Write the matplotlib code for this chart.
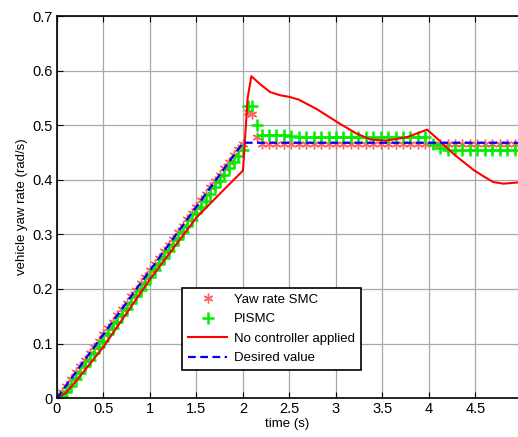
import numpy as np
import matplotlib
matplotlib.use("Agg")
import matplotlib.pyplot as plt

plt.rcParams['font.family'] = ['Liberation Sans', 'DejaVu Sans']

# desired yaw rate
t_des = [0.0, 2.0, 5.0]
y_des = [0.0, 0.468, 0.468]

# yaw rate without controller
t_nc = [0.0, 0.1, 0.2, 0.5, 1.0, 1.5, 1.8, 2.0, 2.02, 2.05, 2.09, 2.18, 2.29, 2.4, 2.5, 2.6,
        2.79, 3.04, 3.22, 3.37, 3.54, 3.76, 3.98, 4.08, 4.26, 4.48, 4.6, 4.69, 4.8, 4.94, 5.0]
y_nc = [0.0, 0.01, 0.03, 0.094, 0.218, 0.331, 0.383, 0.417, 0.47, 0.55, 0.59, 0.576, 0.561, 0.555, 0.552, 0.547,
        0.53, 0.503, 0.485, 0.474, 0.472, 0.478, 0.492, 0.477, 0.448, 0.418, 0.405, 0.396, 0.393, 0.395, 0.396]

# sample times of the controller outputs (denser on the ramp, sparser after)
t_ctl = np.concatenate([np.arange(41) * 0.05, [2.05, 2.10, 2.15], 2.2 + np.arange(35) * 0.08])

y_smc = [0.000, 0.012, 0.023, 0.035, 0.047, 0.058, 0.070, 0.082, 0.094, 0.105,
         0.117, 0.129, 0.140, 0.152, 0.164, 0.175, 0.187, 0.199, 0.211, 0.222,
         0.234, 0.246, 0.257, 0.269, 0.281, 0.292, 0.304, 0.316, 0.328, 0.339,
         0.351, 0.363, 0.374, 0.386, 0.398, 0.409, 0.421, 0.433, 0.445, 0.456,
         0.466,
         0.525, 0.520, 0.478,
         0.466, 0.465, 0.465, 0.465, 0.465, 0.465, 0.465, 0.465, 0.465, 0.465,
         0.465, 0.465, 0.465, 0.465, 0.465, 0.465, 0.465, 0.465, 0.465, 0.465,
         0.465, 0.465, 0.466, 0.466, 0.466, 0.466, 0.466, 0.466, 0.466, 0.466,
         0.466, 0.466, 0.466, 0.466, 0.466]

y_pismc = [0.000, 0.003, 0.012, 0.023, 0.035, 0.046, 0.058, 0.070, 0.082, 0.093,
           0.105, 0.117, 0.128, 0.140, 0.152, 0.163, 0.175, 0.187, 0.199, 0.210,
           0.222, 0.234, 0.245, 0.257, 0.269, 0.280, 0.292, 0.304, 0.316, 0.327,
           0.339, 0.351, 0.362, 0.374, 0.386, 0.397, 0.409, 0.421, 0.433, 0.444,
           0.455,
           0.535, 0.536, 0.500,
           0.482, 0.483, 0.483, 0.483, 0.481, 0.478, 0.478, 0.478, 0.478, 0.478,
           0.478, 0.478, 0.478, 0.478, 0.478, 0.478, 0.478, 0.478, 0.478, 0.478,
           0.478, 0.478, 0.478, 0.466, 0.459, 0.455, 0.455, 0.455, 0.455, 0.455,
           0.455, 0.455, 0.455, 0.455, 0.455]

fig = plt.figure(figsize=(5.18, 4.37), dpi=100)
ax = fig.add_axes([0.110, 0.089, 0.89, 0.874])

ax.plot(t_ctl, y_smc, linestyle='none', marker=(6, 2, 0), color='#ff6060', markersize=7,
        markeredgewidth=1.0, label='Yaw rate SMC')
ax.plot(t_ctl, y_pismc, linestyle='none', marker='+', color='#00ee00', markersize=9,
        markeredgewidth=1.8, label='PISMC')
ax.plot(t_nc, y_nc, color='#ff0000', linewidth=1.5, label='No controller applied')
ax.plot(t_des, y_des, color='#0000ff', linewidth=1.6, linestyle=(0, (3.5, 2)),
        label='Desired value')

ax.set_xlim(0, 4.957)
ax.set_ylim(0, 0.7)
ax.set_xticks([0, 0.5, 1, 1.5, 2, 2.5, 3, 3.5, 4, 4.5])
ax.set_xticklabels(['0', '0.5', '1', '1.5', '2', '2.5', '3', '3.5', '4', '4.5'])
ax.set_yticks([0, 0.1, 0.2, 0.3, 0.4, 0.5, 0.6, 0.7])
ax.set_yticklabels(['0', '0.1', '0.2', '0.3', '0.4', '0.5', '0.6', '0.7'])
ax.tick_params(direction='in', top=True, right=False, labelsize=10.5, length=4, pad=3)
ax.grid(True, color='#a8a8a8', linewidth=0.9)
ax.spines['right'].set_visible(False)
for s in ['top', 'left', 'bottom']:
    ax.spines[s].set_linewidth(1.2)

ax.set_xlabel('time (s)', fontsize=9.5, labelpad=1)
ax.set_ylabel('vehicle yaw rate (rad/s)', fontsize=9.5, labelpad=3)

leg = ax.legend(loc='lower left', bbox_to_anchor=(0.271, 0.073), fontsize=9.5,
                fancybox=False, framealpha=1, edgecolor='black', borderpad=0.45,
                labelspacing=0.55, handlelength=3.0, handletextpad=0.5, borderaxespad=0)
leg.get_frame().set_linewidth(1.2)

fig.savefig('out.png', dpi=100)
